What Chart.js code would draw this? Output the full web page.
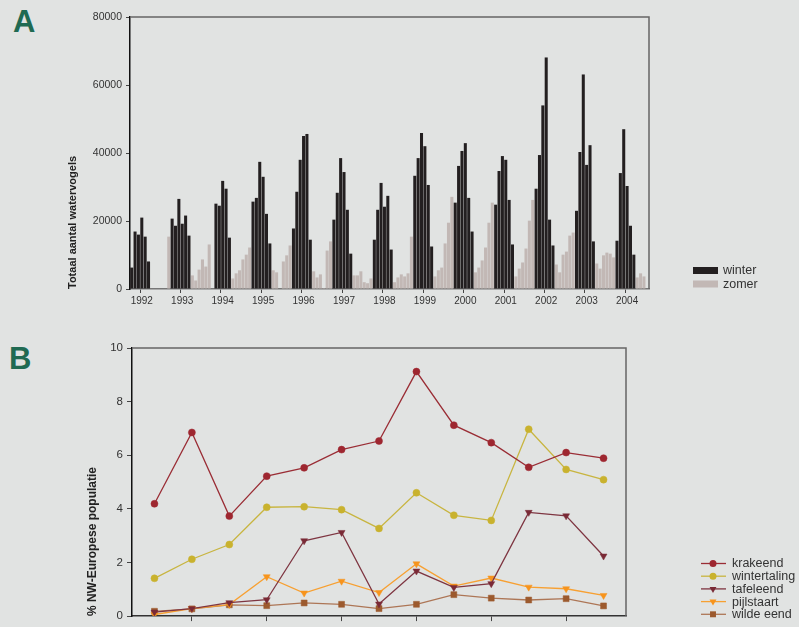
<!DOCTYPE html>
<html>
<head>
<meta charset="utf-8">
<script src="https://cdn.jsdelivr.net/npm/chart.js@4.4.1/dist/chart.umd.min.js"></script>
<style>
  html, body { margin: 0; padding: 0; background: #e1e3e2; overflow: hidden; }
  body { width: 799px; height: 627px; position: relative; }
  canvas { position: absolute; left: 0; }
  #grafiekA { top: 0; }
  #grafiekB { top: 330px; }
  .letter { position: absolute; font: bold 31px 'Liberation Sans', Arial, sans-serif; line-height: 31px; color: #1f6a52; }
</style>
</head>
<body>
<div class="letter" style="left:13px;top:6px">A</div>
<div class="letter" style="left:9px;top:343px">B</div>
<canvas id="grafiekA" width="799" height="320"></canvas>
<canvas id="grafiekB" width="799" height="297"></canvas>
<script>
// --- A: totaal aantal watervogels per maand (okt 1991 - jul 2004) ---
// winter = okt..mrt, zomer = apr..sep
const winter = [
  [6300, 16900, 16000, 21000, 15400, 8100],    // 1991/92
  [20700, 18600, 26500, 19200, 21600, 15700],  // 1992/93
  [null, 25100, 24500, 31800, 29500, 15100],   // 1993/94
  [25700, 26800, 37400, 33000, 22100, 13400],  // 1994/95
  [17800, 28600, 38000, 45000, 45600, 14500],  // 1995/96
  [20400, 28300, 38500, 34400, 23300, 10400],  // 1996/97
  [14500, 23300, 31200, 24200, 27400, 11600],  // 1997/98
  [33300, 38500, 45900, 42000, 30600, 12500],  // 1998/99
  [25400, 36200, 40600, 42900, 26800, 16900],  // 1999/00
  [24800, 34700, 39100, 38000, 26200, 13100],  // 2000/01
  [29500, 39400, 54000, 68100, 20400, 12800],  // 2001/02
  [23000, 40300, 63100, 36500, 42300, 14000],  // 2002/03
  [14200, 34100, 47000, 30300, 18600, 10100]   // 2003/04
];
const zomer = [
  [null, null, null, null, null, 15400],       // 1992
  [4000, 2500, 5700, 8700, 6600, 13100],       // 1993
  [3100, 4600, 5500, 8700, 10100, 12200],      // 1994
  [5500, 4900, null, 8100, 9900, 12800],       // 1995
  [5200, 3400, 4300, 300, 11300, 14000],       // 1996
  [4000, 4000, 5200, 2000, 1700, 3100],        // 1997
  [2000, 3400, 4300, 3700, 4600, 15400],       // 1998
  [3700, 5500, 6300, 13400, 19500, 27100],     // 1999
  [4900, 6300, 8400, 12200, 19500, 25400],     // 2000
  [3700, 6000, 7800, 11900, 20100, 26200],     // 2001
  [7200, 4900, 10100, 11000, 15700, 16600],    // 2002
  [7500, 6000, 9900, 10700, 10400, 9300],      // 2003
  [3400, 4600, 3700, null, null, null]         // 2004
];
const aantalMaanden = 154; // okt 1991 t/m jul 2004
const yTicksA = [0, 20000, 40000, 60000, 80000];

// --- B: % van de NW-Europese populatie ---
const jaren = [1992, 1993, 1994, 1995, 1996, 1997, 1998, 1999, 2000, 2001, 2002, 2003, 2004];
const krakeend     = [4.19, 6.85, 3.73, 5.22, 5.53, 6.21, 6.53, 9.12, 7.12, 6.47, 5.55, 6.10, 5.89];
const wintertaling = [1.41, 2.12, 2.67, 4.06, 4.08, 3.97, 3.27, 4.60, 3.76, 3.57, 6.97, 5.47, 5.09];
const tafeleend    = [0.15, 0.28, 0.50, 0.61, 2.81, 3.12, 0.45, 1.68, 1.07, 1.21, 3.87, 3.74, 2.24];
const pijlstaart   = [0.06, 0.28, 0.43, 1.47, 0.86, 1.30, 0.88, 1.95, 1.12, 1.42, 1.08, 1.02, 0.77];
const wildeEend    = [0.18, 0.27, 0.42, 0.39, 0.49, 0.44, 0.28, 0.44, 0.80, 0.67, 0.60, 0.65, 0.38];
const xTicksB = [1993, 1995, 1997, 1999, 2001, 2003];

Chart.defaults.font.family = "'Liberation Sans', Arial, sans-serif";
Chart.defaults.color = '#333';

// maandlabels + verdeling naar winter/zomer
const maanden = [];
const winterData = [];
const zomerData = [];
for (let i = 0; i < aantalMaanden; i++) {
  const m = (9 + i) % 12;
  const jaar = 1991 + Math.floor((9 + i) / 12);
  maanden.push({ jaar: jaar, maand: m });
  const seizoen = Math.floor(i / 12);
  const k = i % 12;
  winterData.push(k < 6 ? winter[seizoen][k] : null);
  zomerData.push(k >= 6 ? zomer[seizoen][k - 6] : null);
}

// legenda op vaste plek
const vasteLegenda = {
  id: 'vasteLegenda',
  afterDraw(chart, args, opts) {
    const ctx = chart.ctx;
    ctx.save();
    ctx.font = opts.font;
    ctx.textBaseline = 'middle';
    chart.data.datasets.forEach((ds, i) => {
      const y = opts.y + i * opts.rowHeight;
      if (opts.kind === 'box') {
        ctx.fillStyle = ds.backgroundColor;
        ctx.fillRect(opts.x, y - 3.5, 25, 7);
      } else {
        ctx.strokeStyle = ds.borderColor;
        ctx.lineWidth = 1.3;
        ctx.beginPath();
        ctx.moveTo(opts.x, y);
        ctx.lineTo(opts.x + 25, y);
        ctx.stroke();
        ctx.fillStyle = ds.pointBackgroundColor;
        ctx.strokeStyle = ds.pointBackgroundColor;
        Chart.helpers.drawPoint(ctx, {
          pointStyle: ds.pointStyle, rotation: ds.pointRotation || 0,
          radius: ds.pointRadius, borderWidth: 0
        }, opts.x + 12, y);
      }
      ctx.fillStyle = '#333';
      ctx.fillText(ds.label, opts.textX, y + 0.5);
    });
    ctx.restore();
  }
};

// lijnen boven en rechts van het plotvlak
const kader = {
  id: 'kader',
  afterDraw(chart) {
    const { ctx, chartArea: a } = chart;
    ctx.save();
    ctx.strokeStyle = '#666';
    ctx.lineWidth = 1.5;
    ctx.beginPath();
    ctx.moveTo(a.left, a.top);
    ctx.lineTo(a.right, a.top);
    ctx.lineTo(a.right, a.bottom);
    ctx.stroke();
    ctx.restore();
  }
};

new Chart(document.getElementById('grafiekA'), {
  type: 'bar',
  data: {
    labels: maanden.map(d => d.jaar + '-' + (d.maand + 1)),
    datasets: [
      { label: 'winter', data: winterData, backgroundColor: '#231f20', grouped: false,
        barPercentage: 0.9, categoryPercentage: 1 },
      { label: 'zomer', data: zomerData, backgroundColor: '#c2b8b5', grouped: false,
        barPercentage: 0.9, categoryPercentage: 1 }
    ]
  },
  options: {
    responsive: false,
    animation: false,
    devicePixelRatio: 1,
    layout: { padding: { left: 60, right: 150, top: 17, bottom: 0 } },
    plugins: {
      legend: { display: false },
      tooltip: { enabled: false },
      vasteLegenda: { kind: 'box', x: 693, y: 270.5, rowHeight: 13.5, textX: 723, font: '12.5px "Liberation Sans", Arial, sans-serif' }
    },
    scales: {
      x: {
        grid: {
          drawOnChartArea: false, tickLength: 4, lineWidth: 1,
          tickColor: c => (maanden[c.index] && maanden[c.index].maand === 0) ? '#444' : 'transparent'
        },
        border: { color: '#777', width: 1.5 },
        ticks: {
          autoSkip: false, maxRotation: 0, minRotation: 0, padding: 2,
          font: { size: 10 }, color: '#333',
          callback: (v, i) => maanden[i].maand === 0 ? String(maanden[i].jaar) : ''
        },
        afterFit: s => { s.height = 31; }
      },
      y: {
        min: 0, max: 80000,
        afterBuildTicks: s => { s.ticks = yTicksA.map(v => ({ value: v })); },
        grid: { drawOnChartArea: false, tickLength: 4, color: '#444' },
        border: { color: '#111', width: 1.5 },
        ticks: { padding: 4, font: { size: 10.5 }, color: '#333', callback: v => String(v) },
        title: { display: true, text: 'Totaal aantal watervogels', align: 'start',
          font: { size: 11, weight: 'bold' }, color: '#222', padding: { top: 6, bottom: 0 } },
        afterFit: s => { s.width = 70; }
      }
    }
  },
  plugins: [vasteLegenda, kader]
});

const punten = arr => arr.map((v, i) => ({ x: jaren[i], y: v }));
const soort = (label, data, lijn, punt, stijl, r, rot) => ({
  label: label, data: punten(data), borderColor: lijn, borderWidth: 1.3,
  pointBackgroundColor: punt, pointBorderColor: punt, pointBorderWidth: 0.5,
  pointStyle: stijl, pointRadius: r, pointRotation: rot || 0, tension: 0
});

new Chart(document.getElementById('grafiekB'), {
  type: 'line',
  data: {
    datasets: [
      soort('krakeend', krakeend, '#9a2d35', '#9e2730', 'circle', 3.5),
      soort('wintertaling', wintertaling, '#c8b540', '#c9b22e', 'circle', 3.5),
      soort('tafeleend', tafeleend, '#7e3541', '#7a2a36', 'triangle', 4, 180),
      soort('pijlstaart', pijlstaart, '#f7a032', '#f7941d', 'triangle', 4, 180),
      soort('wilde eend', wildeEend, '#ad7656', '#9c5a2e', 'rect', 4.2)
    ]
  },
  options: {
    responsive: false,
    animation: false,
    devicePixelRatio: 1,
    layout: { padding: { left: 80, right: 173, top: 18, bottom: 0 } },
    plugins: {
      legend: { display: false },
      tooltip: { enabled: false },
      vasteLegenda: { kind: 'line', x: 701, y: 233.5, rowHeight: 12.7, textX: 732, font: '12.5px "Liberation Sans", Arial, sans-serif' }
    },
    scales: {
      x: {
        type: 'linear', min: 1991.4, max: 2004.6,
        afterBuildTicks: s => { s.ticks = xTicksB.map(v => ({ value: v })); },
        grid: { drawOnChartArea: false, tickLength: 5, color: '#444' },
        border: { color: '#333', width: 1.5 },
        ticks: { display: false },
        afterFit: s => { s.height = 7; }
      },
      y: {
        min: 0, max: 10,
        ticks: { stepSize: 2, padding: 4, font: { size: 11.5 }, color: '#333' },
        grid: { drawOnChartArea: false, tickLength: 5, color: '#444' },
        border: { color: '#111', width: 1.5 },
        title: { display: true, text: '% NW-Europese populatie', align: 'start',
          font: { size: 12, weight: 'bold' }, color: '#222', padding: { top: 5, bottom: 0 } },
        afterFit: s => { s.width = 52; }
      }
    }
  },
  plugins: [vasteLegenda, kader]
});
</script>
</body>
</html>
